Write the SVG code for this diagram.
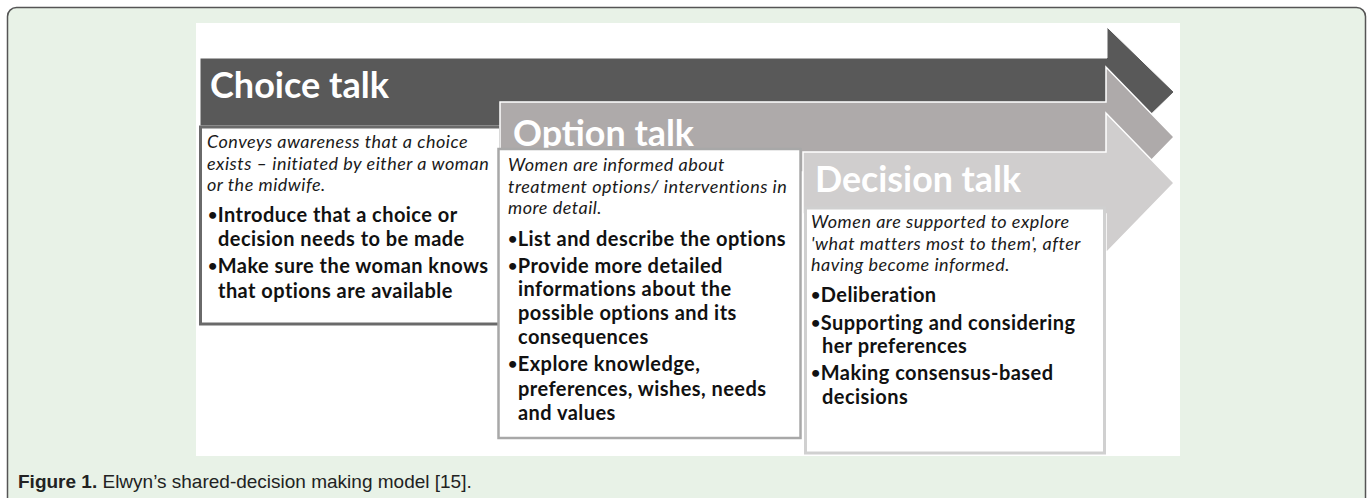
<svg xmlns="http://www.w3.org/2000/svg" width="1372" height="498" viewBox="0 0 1372 498">
<style>
.title{font-family:Lato,"Open Sans",sans-serif;font-weight:bold;font-size:36px;fill:#ffffff}
.it{font-family:Lato,"Open Sans",sans-serif;font-style:italic;font-size:18px;letter-spacing:0.5px;fill:#1a1a1a}
.bl{font-family:Lato,"Open Sans",sans-serif;font-weight:bold;font-size:20px;letter-spacing:0.45px;fill:#111111}
.b{font-size:16px}
.cap{font-family:"Liberation Sans",Arial,sans-serif;font-size:19px;fill:#222222}
</style>
<rect x="7.5" y="7.5" width="1358" height="510" rx="9" fill="#e8f2e7" stroke="#555555" stroke-width="1.5"/>
<rect x="196" y="23" width="984" height="433" fill="#ffffff"/>

<g id="choice-talk">
  <polygon points="200,58 1107,58 1107,27 1174,92 1107,157 1107,126 200,126" fill="#595959" stroke="#ffffff" stroke-width="1"/>
  <text class="title" x="210" y="98" textLength="179" lengthAdjust="spacingAndGlyphs">Choice talk</text>
  <rect x="200.5" y="127" width="300" height="197" fill="#ffffff" stroke="#6a6a6a" stroke-width="3"/>
  <text class="it" x="207" y="148">Conveys awareness that a choice</text>
  <text class="it" x="207" y="170">exists – initiated by either a woman</text>
  <text class="it" x="207" y="191">or the midwife.</text>
  <text class="bl" x="208" y="222"><tspan class="b" dy="-2">•</tspan><tspan dy="2">Introduce that a choice or</tspan></text>
  <text class="bl" x="218" y="246">decision needs to be made</text>
  <text class="bl" x="208" y="273"><tspan class="b" dy="-2">•</tspan><tspan dy="2">Make sure the woman knows</tspan></text>
  <text class="bl" x="218" y="298">that options are available</text>
</g>

<g id="option-talk">
  <polygon points="500,102 1106,102 1106,67 1174,137 1106,207 1106,172 500,172" fill="#aeaaaa" stroke="#ffffff" stroke-width="1.5"/>
  <text class="title" x="513" y="146" textLength="181" lengthAdjust="spacingAndGlyphs">Option talk</text>
  <rect x="498.5" y="149" width="302" height="289" fill="#ffffff" stroke="#a8a8a8" stroke-width="2.5"/>
  <text class="it" x="508" y="171">Women are informed about</text>
  <text class="it" x="508" y="193">treatment options/ interventions in</text>
  <text class="it" x="508" y="214">more detail.</text>
  <text class="bl" x="508" y="246"><tspan class="b" dy="-2">•</tspan><tspan dy="2">List and describe the options</tspan></text>
  <text class="bl" x="508" y="273"><tspan class="b" dy="-2">•</tspan><tspan dy="2">Provide more detailed</tspan></text>
  <text class="bl" x="518" y="296">informations about the</text>
  <text class="bl" x="518" y="320">possible options and its</text>
  <text class="bl" x="518" y="344">consequences</text>
  <text class="bl" x="508" y="371"><tspan class="b" dy="-2">•</tspan><tspan dy="2">Explore knowledge,</tspan></text>
  <text class="bl" x="518" y="396">preferences, wishes, needs</text>
  <text class="bl" x="518" y="420">and values</text>
</g>

<g id="decision-talk">
  <polygon points="803,152 1106,152 1106,113 1174,183 1106,253 1106,214 803,214" fill="#d0cece" stroke="#ffffff" stroke-width="1.5"/>
  <text class="title" x="815" y="192" textLength="206" lengthAdjust="spacingAndGlyphs">Decision talk</text>
  <rect x="805.5" y="208" width="299" height="245" fill="#ffffff" stroke="#d0d0d0" stroke-width="3"/>
  <text class="it" x="811" y="228">Women are supported to explore</text>
  <text class="it" x="811" y="250">'what matters most to them', after</text>
  <text class="it" x="811" y="271">having become informed.</text>
  <text class="bl" x="811" y="302"><tspan class="b" dy="-2">•</tspan><tspan dy="2">Deliberation</tspan></text>
  <text class="bl" x="811" y="330"><tspan class="b" dy="-2">•</tspan><tspan dy="2">Supporting and considering</tspan></text>
  <text class="bl" x="822" y="353">her preferences</text>
  <text class="bl" x="811" y="380"><tspan class="b" dy="-2">•</tspan><tspan dy="2">Making consensus-based</tspan></text>
  <text class="bl" x="822" y="404">decisions</text>
</g>

<g id="connectors"></g>

<text class="cap" x="18" y="488"><tspan font-weight="bold">Figure 1.</tspan> Elwyn’s shared-decision making model [15].</text>
</svg>
